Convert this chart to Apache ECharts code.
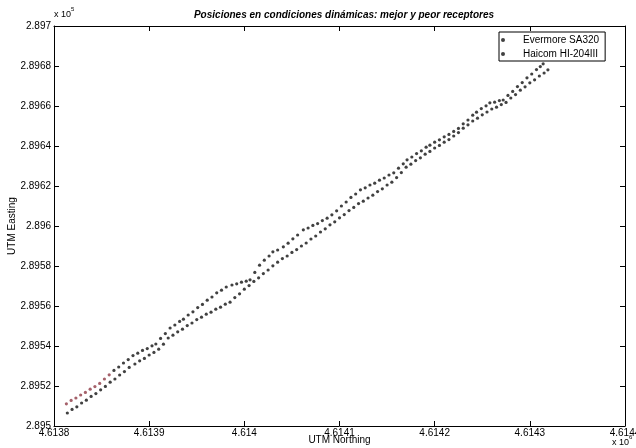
<!DOCTYPE html>
<html>
<head>
<meta charset="utf-8">
<script src="https://cdn.jsdelivr.net/npm/echarts@6/dist/echarts.min.js"></script>
<style>
html,body{margin:0;padding:0;background:#fff;}
#chart{width:636px;height:448px;}
</style>
</head>
<body>
<div id="chart"></div>
<script>
// UTM Northing / Easting in metres
const titleText = 'Posiciones en condiciones dinámicas: mejor y peor receptores';
const seriesNames = ['Evermore SA320', 'Haicom HI-204III'];
const xTicks = [4613800, 4613900, 4614000, 4614100, 4614200, 4614300, 4614400];
const yTicks = [289500, 289520, 289540, 289560, 289580, 289600, 289620, 289640, 289660, 289680, 289700];

const evermore = [
  [4613813.0,289511.1],[4613818.0,289512.8],[4613823.0,289514.0],[4613828.0,289515.5],[4613833.0,289516.8],
  [4613838.0,289518.4],[4613843.0,289519.7],[4613848.0,289521.3],[4613853.0,289523.5],[4613858.0,289525.6],
  [4613863.0,289527.8],[4613868.0,289529.5],[4613873.0,289531.5],[4613878.0,289533.2],[4613883.0,289535.2],
  [4613888.0,289536.4],[4613893.0,289537.8],[4613898.0,289538.7],[4613903.0,289540.1],[4613907.0,289541.0],
  [4613912.0,289543.8],[4613917.0,289546.2],[4613922.0,289549.0],[4613927.0,289550.5],[4613932.0,289552.3],
  [4613936.0,289553.4],[4613941.0,289555.5],[4613946.0,289557.1],[4613951.0,289559.2],[4613956.0,289560.8],
  [4613961.0,289562.9],[4613966.0,289564.5],[4613971.0,289566.6],[4613976.0,289567.9],[4613981.0,289569.5],
  [4613987.0,289570.5],[4613992.0,289571.1],[4613997.0,289571.9],[4614002.0,289572.4],[4614006.0,289573.1],
  [4614011.0,289576.8],[4614016.0,289580.4],[4614021.0,289582.9],[4614026.0,289585.0],[4614030.0,289587.1],
  [4614035.0,289588.0],[4614041.0,289589.6],[4614046.0,289591.4],[4614051.0,289593.6],[4614056.0,289595.5],
  [4614062.0,289598.1],[4614067.0,289599.0],[4614072.0,289600.3],[4614077.0,289601.2],[4614082.0,289602.7],
  [4614087.0,289603.9],[4614092.0,289605.6],[4614097.0,289607.6],[4614102.0,289610.0],[4614107.0,289612.0],
  [4614112.0,289614.3],[4614117.0,289616.0],[4614122.0,289618.1],[4614127.0,289619.1],[4614132.0,289620.5],
  [4614137.0,289621.4],[4614142.0,289622.9],[4614147.0,289624.0],[4614152.0,289625.5],[4614157.0,289626.6],
  [4614162.0,289628.9],[4614167.0,289631.1],[4614171.0,289633.1],[4614176.0,289634.5],[4614181.0,289636.2],
  [4614186.0,289637.6],[4614191.0,289639.4],[4614195.0,289640.4],[4614200.0,289641.9],[4614205.0,289643.1],
  [4614210.0,289644.6],[4614215.0,289645.8],[4614220.0,289647.3],[4614225.0,289648.8],[4614230.0,289651.1],
  [4614235.0,289653.0],[4614240.0,289655.4],[4614244.0,289656.9],[4614249.0,289658.7],[4614254.0,289660.1],
  [4614258.0,289661.6],[4614263.0,289661.9],[4614268.0,289662.7],[4614272.0,289663.0],[4614277.0,289665.3],
  [4614282.0,289667.3],[4614287.0,289669.7],[4614292.0,289671.7],[4614297.0,289674.1],[4614302.0,289676.0],
  [4614307.0,289678.2],[4614311.0,289679.7],[4614314.0,289681.1]
];

const haicom = [
  [4613814.0,289506.5],[4613819.0,289508.3],[4613824.0,289509.6],[4613829.0,289511.5],[4613834.0,289512.9],
  [4613839.0,289514.8],[4613844.0,289516.2],[4613849.0,289518.1],[4613854.0,289519.8],[4613859.0,289521.9],
  [4613864.0,289523.5],[4613869.0,289525.5],[4613874.0,289527.2],[4613879.0,289529.3],[4613885.0,289531.0],
  [4613890.0,289532.6],[4613895.0,289533.8],[4613900.0,289535.5],[4613905.0,289536.8],[4613910.0,289538.4],
  [4613915.0,289540.9],[4613920.0,289544.0],[4613925.0,289545.4],[4613930.0,289547.1],[4613935.0,289548.4],
  [4613940.0,289550.2],[4613945.0,289551.5],[4613950.0,289553.2],[4613955.0,289554.4],[4613960.0,289555.9],
  [4613965.0,289556.9],[4613970.0,289558.4],[4613975.0,289559.4],[4613980.0,289560.9],[4613985.0,289561.9],
  [4613990.0,289564.2],[4613995.0,289566.1],[4614000.0,289568.4],[4614005.0,289570.2],[4614010.0,289572.3],
  [4614015.0,289574.1],[4614020.0,289576.2],[4614025.0,289578.0],[4614030.0,289580.1],[4614035.0,289581.9],
  [4614040.0,289583.7],[4614045.0,289585.0],[4614050.0,289586.8],[4614055.0,289588.2],[4614060.0,289590.0],
  [4614065.0,289591.5],[4614070.0,289593.5],[4614075.0,289595.0],[4614080.0,289597.0],[4614085.0,289598.6],
  [4614090.0,289600.6],[4614095.0,289602.1],[4614100.0,289604.1],[4614105.0,289605.7],[4614110.0,289607.7],
  [4614115.0,289609.3],[4614120.0,289611.2],[4614125.0,289612.4],[4614130.0,289614.0],[4614135.0,289615.4],
  [4614140.0,289617.2],[4614145.0,289618.6],[4614150.0,289620.5],[4614155.0,289621.9],[4614160.0,289624.2],
  [4614165.0,289626.7],[4614170.0,289629.4],[4614175.0,289630.9],[4614180.0,289632.7],[4614185.0,289634.1],
  [4614190.0,289635.9],[4614195.0,289637.3],[4614200.0,289639.0],[4614205.0,289640.3],[4614210.0,289641.9],
  [4614215.0,289643.2],[4614220.0,289645.0],[4614225.0,289646.7],[4614230.0,289648.9],[4614235.0,289650.6],
  [4614240.0,289652.5],[4614245.0,289653.9],[4614250.0,289655.6],[4614255.0,289657.0],[4614260.0,289658.5],
  [4614265.0,289659.4],[4614270.0,289660.7],[4614275.0,289661.8],[4614280.0,289664.0],[4614285.0,289665.7],
  [4614290.0,289667.9],[4614295.0,289669.6],[4614300.0,289671.6],[4614305.0,289673.1],[4614310.0,289675.0],
  [4614315.0,289676.5],[4614319.0,289678.1]
];

const FONT = 'Liberation Sans, Arial, Helvetica, sans-serif';
const DOT = '#111';
const chart = echarts.init(document.getElementById('chart'), null, {renderer: 'canvas'});

function fmt(v, scale) { return parseFloat((v / scale).toFixed(4)).toString(); }

const xMin = xTicks[0], xMax = xTicks[xTicks.length - 1], xInt = xTicks[1] - xTicks[0];
const yMin = yTicks[0], yMax = yTicks[yTicks.length - 1], yInt = yTicks[1] - yTicks[0];

const axisCommon = {
  axisLine: {show: true, onZero: false, lineStyle: {color: '#000', width: 1}},
  axisTick: {show: true, inside: true, length: 5, lineStyle: {color: '#000'}},
  splitLine: {show: false}
};

const option = {
  backgroundColor: '#fff',
  animation: false,
  title: {
    text: titleText,
    left: 339, textAlign: 'center', top: 5,
    textStyle: {fontFamily: FONT, fontSize: 10, fontWeight: 'bold', fontStyle: 'italic', color: '#000'}
  },
  grid: {left: 54, right: 11, top: 26, bottom: 22, containLabel: false, outerBoundsMode: 'none'},
  legend: {
    data: seriesNames.map(n => ({name: n, itemStyle: {color: DOT}})),
    orient: 'vertical',
    left: 499, top: 32,
    backgroundColor: '#fff',
    borderColor: '#000', borderWidth: 1,
    padding: [3, 6, 2, 2],
    itemWidth: 24, itemHeight: 4, itemGap: 4,
    textStyle: {fontFamily: FONT, fontSize: 10, color: '#000', padding: [0, 0, 0, 3]}
  },
  xAxis: [
    Object.assign({}, axisCommon, {
      type: 'value', min: xMin, max: xMax, interval: xInt, position: 'bottom',
      name: 'UTM Northing', nameLocation: 'middle', nameGap: 9, nameMoveOverlap: false,
      nameTextStyle: {fontFamily: FONT, fontSize: 10, color: '#000'},
      axisLabel: {fontFamily: FONT, fontSize: 10, color: '#000', margin: 2, formatter: v => fmt(v, 1e6), showMinLabel: true, showMaxLabel: true}
    }),
    Object.assign({}, axisCommon, {
      type: 'value', min: xMin, max: xMax, interval: xInt, position: 'top',
      axisLabel: {show: false}
    })
  ],
  yAxis: [
    Object.assign({}, axisCommon, {
      type: 'value', min: yMin, max: yMax, interval: yInt, position: 'left',
      name: 'UTM Easting', nameLocation: 'middle', nameGap: 37, nameRotate: 90, nameMoveOverlap: false,
      nameTextStyle: {fontFamily: FONT, fontSize: 10, color: '#000'},
      axisLabel: {fontFamily: FONT, fontSize: 10, color: '#000', margin: 3, formatter: v => fmt(v, 1e5), showMinLabel: true, showMaxLabel: true}
    }),
    Object.assign({}, axisCommon, {
      type: 'value', min: yMin, max: yMax, interval: yInt, position: 'right',
      axisLabel: {show: false}
    })
  ],
  series: [
    {
      name: seriesNames[0], type: 'scatter', symbol: 'circle', symbolSize: 3.2,
      xAxisIndex: 0, yAxisIndex: 0,
      itemStyle: {color: p => (p.dataIndex === undefined || p.dataIndex > 9 ? DOT : '#8e3a45')},
      data: evermore
    },
    {
      name: seriesNames[1], type: 'scatter', symbol: 'circle', symbolSize: 3.2,
      xAxisIndex: 0, yAxisIndex: 0,
      itemStyle: {color: DOT},
      data: haicom
    }
  ],
  graphic: [
    {type: 'text', left: 54, top: 10, style: {text: 'x 10', font: '9px ' + FONT, fill: '#000'}},
    {type: 'text', left: 71, top: 6, style: {text: '5', font: '6px ' + FONT, fill: '#000'}},
    {type: 'text', left: 612, top: 438, style: {text: 'x 10', font: '9px ' + FONT, fill: '#000'}},
    {type: 'text', left: 629, top: 434, style: {text: '6', font: '6px ' + FONT, fill: '#000'}}
  ]
};

chart.setOption(option);
</script>
</body>
</html>
